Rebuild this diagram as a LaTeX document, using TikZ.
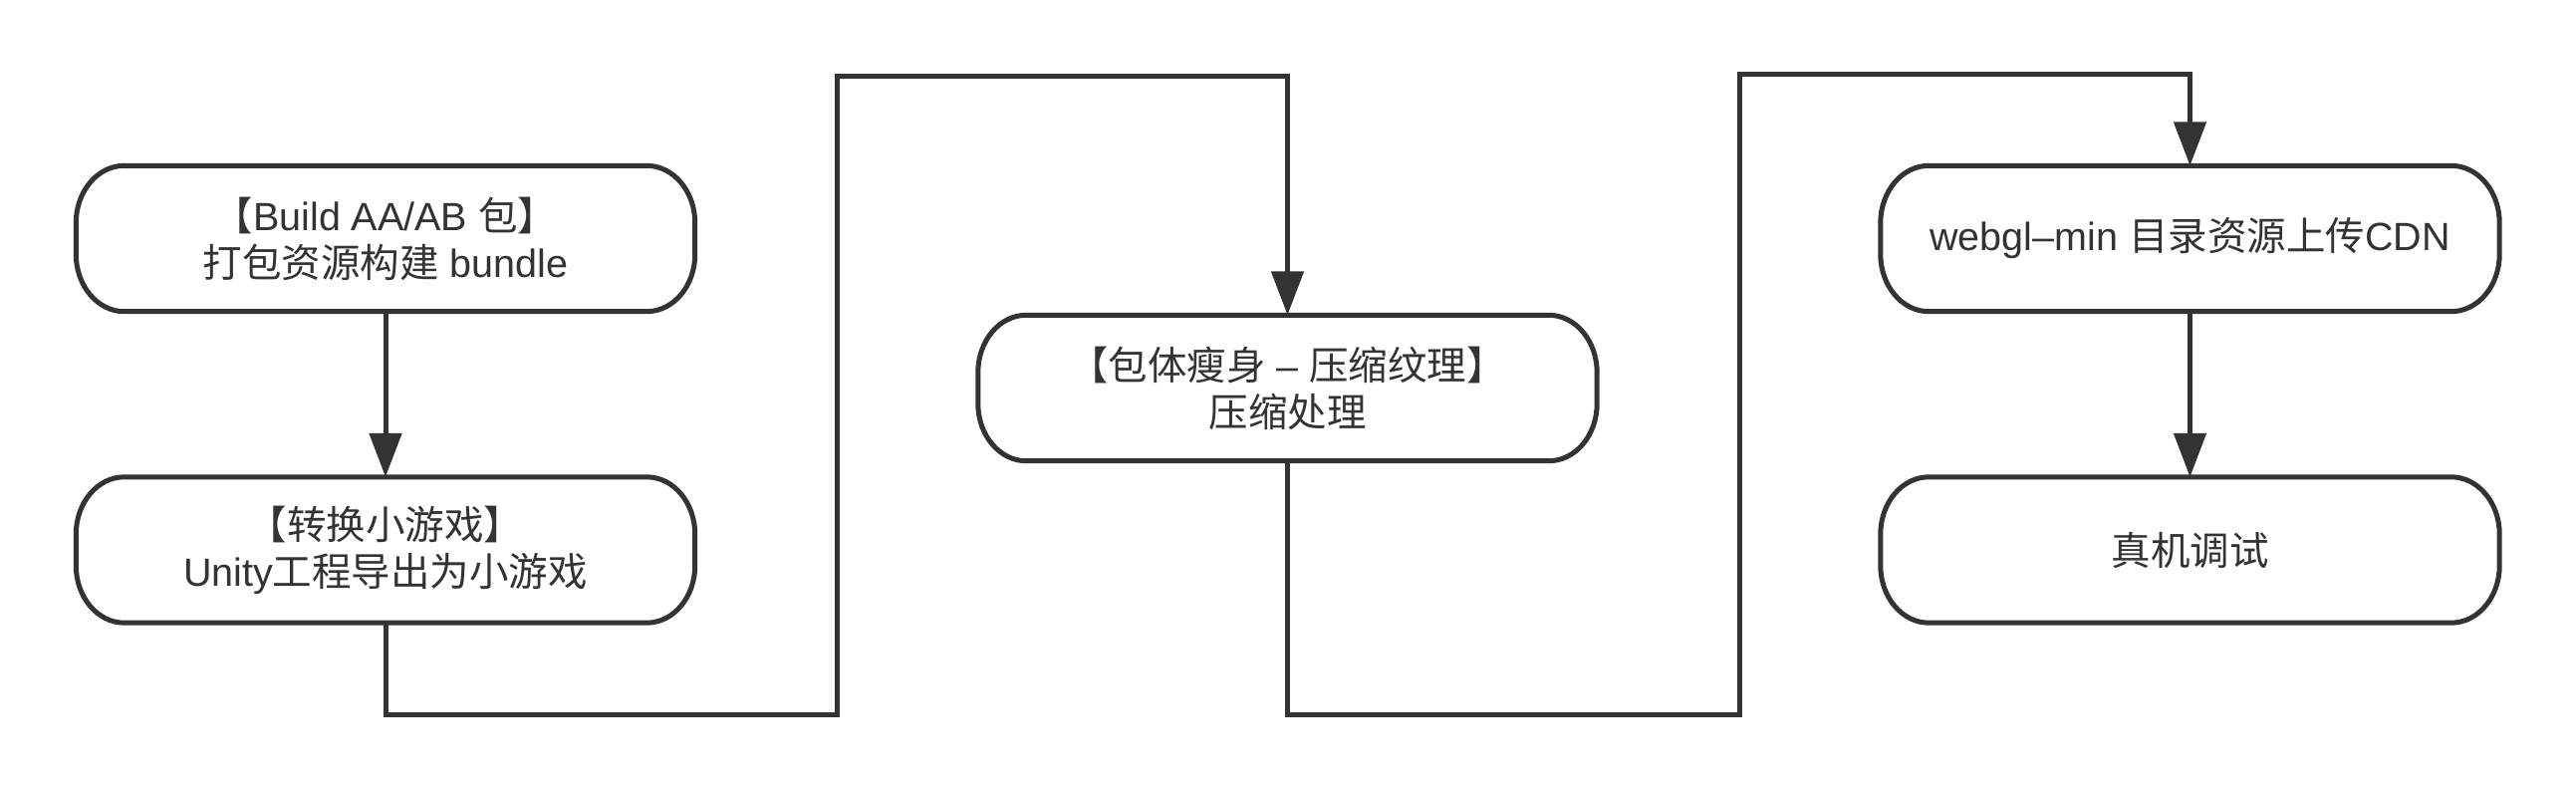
\documentclass[tikz,border=0pt]{standalone}
\usepackage{fontspec}
\setmainfont{Liberation Sans}
\newfontfamily\cjk{Noto Sans CJK SC}
\usetikzlibrary{arrows.meta,calc}
\definecolor{ink}{HTML}{333333}
\begin{document}
\begin{tikzpicture}[x=1pt,y=-1pt,
  flowbox/.style={draw=none, minimum width=621pt, minimum height=146pt,
    inner sep=0pt, align=center, text=ink, font=\fontsize{39.5}{47}\selectfont},
  outline/.style={draw=ink, line width=5pt},
  flow/.style={draw=ink, line width=5pt, line join=miter,
    -{Triangle[length=44pt,width=32pt]}}]
\fill[white] (0,0) rectangle (2586,792);
\useasboundingbox (0,0) rectangle (2586,792);

\node[flowbox] (b1) at (387,239.5) {{\cjk 【}Build AA/AB {\cjk 包】}\\{\cjk 打包资源构建} bundle};
\node[flowbox] (b2) at (387,552) {{\cjk 【转换小游戏】}\\Unity{\cjk 工程导出为小游戏}};
\node[flowbox] (b3) at (1292.5,389.5) {{\cjk 【包体瘦身} – {\cjk 压缩纹理】}\\{\cjk 压缩处理}};
\node[flowbox] (b4) at (2198.5,239.5) {webgl–min {\cjk 目录资源上传}CDN};
\node[flowbox] (b5) at (2198.5,552) {{\cjk 真机调试}};

\foreach \n in {b1,b2,b3,b4,b5}{
  \draw[outline]
    ($(\n.north west)+(48.5,0)$) -- ($(\n.north east)+(-48.5,0)$)
    .. controls ($(\n.north east)+(-21.7,0)$) and ($(\n.north east)+(0,25.7)$) .. ($(\n.north east)+(0,57.5)$)
    -- ($(\n.south east)+(0,-57.5)$)
    .. controls ($(\n.south east)+(0,-25.7)$) and ($(\n.south east)+(-21.7,0)$) .. ($(\n.south east)+(-48.5,0)$)
    -- ($(\n.south west)+(48.5,0)$)
    .. controls ($(\n.south west)+(21.7,0)$) and ($(\n.south west)+(0,-25.7)$) .. ($(\n.south west)+(0,-57.5)$)
    -- ($(\n.north west)+(0,57.5)$)
    .. controls ($(\n.north west)+(0,25.7)$) and ($(\n.north west)+(21.7,0)$) .. cycle;
}

\coordinate (c1) at (840,717);
\coordinate (c2) at (840,77);
\coordinate (c3) at (1746,717);
\coordinate (c4) at (1746,75);

\draw[flow] (b1.south) -- (b2.north);
\draw[flow] (b2.south) |- (c1) -- (c2) -| (b3.north);
\draw[flow] (b3.south) |- (c3) -- (c4) -| (b4.north);
\draw[flow] (b4.south) -- (b5.north);
\end{tikzpicture}
\end{document}
